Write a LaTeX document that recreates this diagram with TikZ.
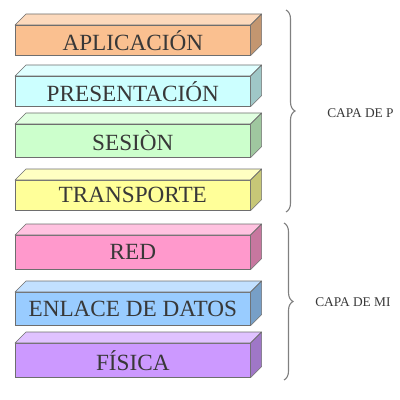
\documentclass[tikz,border=0pt]{standalone}
\usepackage{fontspec}
\setmainfont{Liberation Serif}
\usetikzlibrary{decorations.pathreplacing}

\definecolor{naranja}{HTML}{FAC090}
\definecolor{celeste}{HTML}{CCFFFF}
\definecolor{verde}{HTML}{CCFFCC}
\definecolor{amarillo}{HTML}{FFFF99}
\definecolor{rosa}{HTML}{FF99CC}
\definecolor{azul}{HTML}{99CCFF}
\definecolor{lila}{HTML}{CC99FF}
\definecolor{borde}{HTML}{6E6E6E}
\definecolor{letra}{HTML}{383838}

\tikzset{
  capabox/.style={draw=borde, anchor=north west, inner sep=0pt,
    minimum width=5.875cm, text=letra, font=\fontsize{16.5}{16.5}\selectfont},
  cara/.style={draw=borde, line join=round},
  llave/.style={draw=gray, thick, decorate,
    decoration={brace, amplitude=9*0.025cm}},
  rotulo/.style={anchor=west, text=letra, inner sep=0pt,
    font=\fontsize{9.5}{9.5}\selectfont}
}

% #1 nombre, #2 arriba, #3 abajo, #4 color, #5 texto
\newcommand{\capa}[5]{%
  \node[capabox, fill=#4, minimum height={(#3-#2)*0.025cm}] (#1) at (15,#2) {#5};
  \draw[cara, fill=#4!60!white] (#1.north west) -- ([shift={(11,-11)}]#1.north west)
    -- ([shift={(11,-11)}]#1.north east) -- (#1.north east) -- cycle;
  \draw[cara, fill=#4!78!black] (#1.north east) -- ([shift={(11,-11)}]#1.north east)
    -- ([shift={(11,-11)}]#1.south east) -- (#1.south east) -- cycle;
}

\begin{document}
\begin{tikzpicture}[x=0.025cm, y=-0.025cm]
  \useasboundingbox (0,0) rectangle (400,400);
  \clip (0,0) rectangle (400,400);

  \capa{apl}{25}{55}{naranja}{APLICACIÓN}
  \capa{pres}{76}{106}{celeste}{PRESENTACIÓN}
  \capa{ses}{124}{157}{verde}{SESIÒN}
  \capa{trans}{180}{210}{amarillo}{TRANSPORTE}
  \capa{red}{235}{269}{rosa}{RED}
  \capa{enl}{292}{325}{azul}{ENLACE DE DATOS}
  \capa{fis}{343}{377}{lila}{FÍSICA}

  % llaves
  \coordinate (s1) at (286,10);
  \coordinate (i1) at (286,212);
  \coordinate (s2) at (284,223);
  \coordinate (i2) at (284,380);
  \draw[llave] (s1) -- (i1);
  \draw[llave] (s2) -- (i2);

  \node[rotulo] (sup) at (327,113) {CAPA DE P};
  \node[rotulo] (inf) at (315,302) {CAPA DE MI};
\end{tikzpicture}
\end{document}
